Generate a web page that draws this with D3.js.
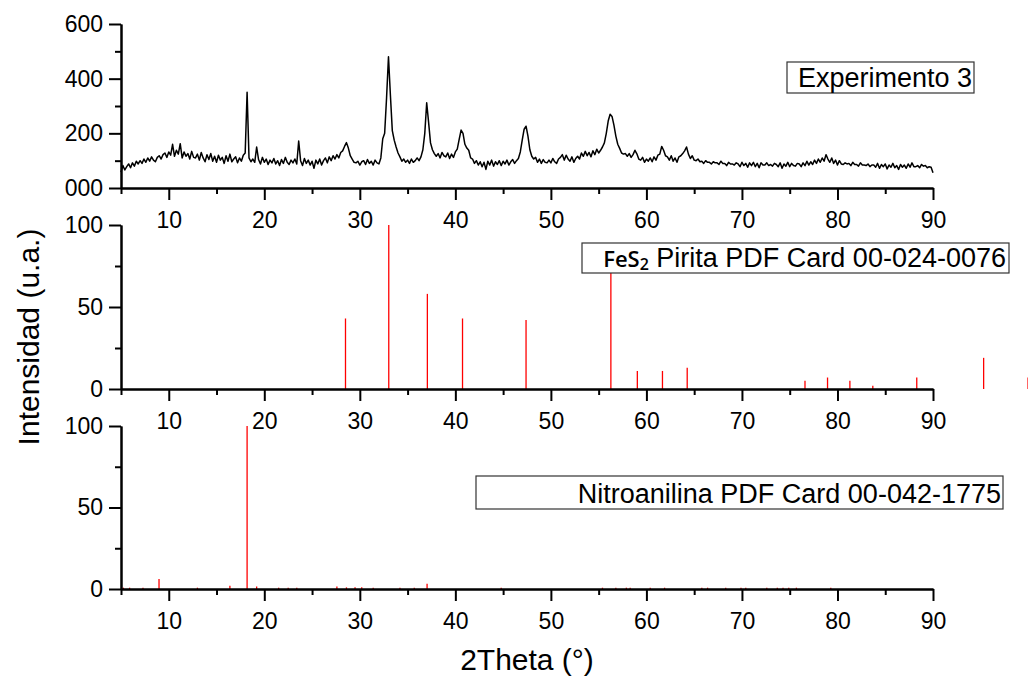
<!DOCTYPE html>
<html>
<head>
<meta charset="utf-8">
<script src="https://cdnjs.cloudflare.com/ajax/libs/d3/7.8.5/d3.min.js"></script>
<style>
  body { margin: 0; background: #fff; }
  text { font-family: "Liberation Sans", Arial, sans-serif; fill: #000; }
</style>
</head>
<body>
<div class="chart"></div>
<script>

// experimento 3: counts read every 0.2 deg from 5.0 to 90.0
var expStart = 5;
var expStep = 0.2;
var expCounts = [
  58, 82, 66, 78, 88, 74, 92, 80, 98, 88,
  100, 90, 106, 94, 110, 98, 114, 102, 96, 112,
  118, 106, 122, 128, 112, 132, 120, 160, 116, 138,
  124, 162, 110, 132, 116, 126, 106, 134, 112, 110,
  124, 102, 130, 110, 96, 122, 104, 126, 98, 116,
  94, 120, 102, 112, 90, 118, 98, 124, 96, 106,
  114, 92, 110, 98, 120, 128, 350, 110, 96, 106,
  94, 150, 104, 88, 112, 94, 106, 86, 102, 92,
  108, 88, 100, 82, 104, 90, 112, 94, 86, 102,
  92, 106, 88, 172, 100, 82, 108, 90, 102, 84,
  98, 72, 102, 88, 106, 84, 100, 110, 92, 114,
  100, 118, 106, 122, 110, 130, 136, 152, 166, 146,
  118, 106, 94, 92, 98, 84, 96, 100, 86, 104,
  90, 98, 84, 102, 92, 88, 110, 180, 200, 330,
  480, 340, 210, 175, 150, 128, 114, 98, 106, 94,
  102, 90, 106, 94, 100, 110, 100, 114, 140, 200,
  312, 240, 165, 140, 126, 116, 126, 110, 130, 118,
  114, 128, 108, 124, 112, 132, 142, 178, 212, 200,
  160, 146, 138, 110, 106, 90, 100, 84, 96, 78,
  94, 68, 98, 84, 102, 80, 96, 86, 100, 82,
  98, 88, 102, 84, 96, 104, 90, 100, 108, 132,
  175, 215, 226, 190, 140, 116, 106, 112, 94, 106,
  90, 104, 94, 92, 102, 92, 108, 96, 90, 106,
  112, 122, 102, 120, 106, 98, 114, 94, 108, 116,
  106, 128, 116, 134, 118, 130, 114, 136, 122, 142,
  128, 138, 150, 165, 200, 245, 270, 262, 230, 190,
  160, 145, 128, 124, 126, 116, 126, 112, 122, 138,
  125, 106, 102, 112, 94, 106, 98, 110, 96, 114,
  102, 120, 124, 152, 138, 118, 114, 102, 118, 98,
  110, 94, 114, 118, 126, 136, 150, 124, 108, 118,
  102, 100, 106, 96, 98, 90, 100, 94, 94, 88,
  96, 92, 92, 86, 98, 90, 90, 82, 94, 88,
  88, 84, 92, 88, 78, 94, 82, 90, 76, 92,
  82, 94, 78, 90, 74, 92, 84, 84, 92, 82,
  86, 80, 90, 86, 78, 92, 72, 88, 80, 94,
  78, 90, 82, 80, 90, 88, 78, 92, 82, 98,
  84, 96, 86, 102, 90, 106, 94, 110, 98, 122,
  106, 94, 110, 90, 102, 84, 100, 88, 86, 92,
  88, 90, 82, 94, 86, 86, 80, 92, 84, 84,
  82, 88, 78, 84, 84, 76, 90, 72, 86, 78,
  88, 70, 84, 76, 90, 74, 82, 68, 86, 76,
  84, 72, 88, 76, 92, 78, 78, 82, 74, 86,
  80, 82, 74, 78, 76, 56
];

// FeS2 pirita PDF card 00-024-0076
var pyriteTheta = [28.5, 33.03, 37.07, 40.75, 47.4, 56.28, 59.05, 61.68, 64.27, 76.6, 78.96, 81.3, 83.7, 88.3, 95.3, 99.95];
var pyriteInt   = [43, 100, 58, 43, 42, 75, 11, 11, 13, 5, 7, 5, 2, 7, 19, 7];

// nitroanilina PDF card 00-042-1775
var nitroTheta = [5.25, 5.9, 7.3, 8.98, 13.0, 16.4, 18.2, 19.2, 21.5, 22.5, 23.4, 27.6, 28.6, 29.5, 30.2, 31.4, 34.2, 35.7, 37.04,
                  44.8, 55.4, 56.8, 57.9, 58.3, 60.4, 61.9, 65.8, 66.4, 68.3, 69.9, 70.4, 72.6, 73.7, 74.3, 74.9, 75.7, 79.3];
var nitroInt   = [0.8, 0.8, 0.8, 6.1, 0.8, 2, 100, 1.5, 0.8, 0.8, 0.8, 1.5, 1, 1, 1, 0.8, 0.8, 0.8, 3.2,
                  0.8, 0.8, 0.8, 0.8, 0.8, 0.8, 0.8, 0.8, 0.8, 0.8, 0.8, 0.8, 0.8, 0.8, 0.8, 0.8, 0.8, 0.8];

var xMajor = [10, 20, 30, 40, 50, 60, 70, 80, 90];
var xMinor = [5, 15, 25, 35, 45, 55, 65, 75, 85];
var expYMajor = [0, 200, 400, 600];
var expYMinor = [100, 300, 500];
var refYMajor = [0, 50, 100];
var refYMinor = [25, 75];

////////////////////////////////////////////////////////////////////////////////////////////////////

var svg = d3.select(".chart").append("svg").attr("width", 1028).attr("height", 677);

var x = d3.scaleLinear().domain([5, 90]).range([121, 933]);

function drawAxes(y, yMajor, yMinor, fmt) {
  var g = svg.append("g");

  g.append("g").attr("transform", "translate(0," + y.range()[0] + ")")
    .call(d3.axisBottom(x).tickValues(xMajor).tickSize(12).tickSizeOuter(0).tickPadding(12));
  g.append("g").attr("transform", "translate(0," + y.range()[0] + ")")
    .call(d3.axisBottom(x).tickValues(xMinor).tickSize(6).tickSizeOuter(0).tickFormat(""));

  g.append("g").attr("transform", "translate(" + x(5) + ",0)")
    .call(d3.axisLeft(y).tickValues(yMajor).tickSize(12).tickSizeOuter(0).tickPadding(6).tickFormat(fmt));
  g.append("g").attr("transform", "translate(" + x(5) + ",0)")
    .call(d3.axisLeft(y).tickValues(yMinor).tickSize(6).tickSizeOuter(0).tickFormat(""));

  g.selectAll(".domain").attr("stroke", "#000").attr("stroke-width", 2);
  g.selectAll(".tick line").attr("stroke", "#000").attr("stroke-width", 2);
  g.selectAll(".tick text").style("font-size", "23px").style("font-family", '"Liberation Sans", Arial, sans-serif');
  return g;
}

function drawSticks(y, theta, inten) {
  svg.append("g").selectAll("line").data(theta).enter().append("line")
    .attr("x1", function(d) { return x(d); })
    .attr("x2", function(d) { return x(d); })
    .attr("y1", y(0))
    .attr("y2", function(d, i) { return y(inten[i]); })
    .attr("stroke", "#ff0000")
    .attr("stroke-width", 1.3);
}

function legendBox(x0, y0, w, h) {
  svg.append("rect").attr("x", x0).attr("y", y0).attr("width", w).attr("height", h)
    .attr("fill", "#fff").attr("stroke", "#333").attr("stroke-width", 1.2);
}

// panel 1 - experimento 3
var y1 = d3.scaleLinear().domain([0, 600]).range([188, 24]);
var expLine = d3.line()
  .x(function(d, i) { return x(expStart + i * expStep); })
  .y(function(d) { return y1(d); });
svg.append("path").datum(expCounts).attr("d", expLine)
  .attr("fill", "none").attr("stroke", "#000").attr("stroke-width", 1.5).attr("stroke-linejoin", "round");
drawAxes(y1, expYMajor, expYMinor, d3.format("03d"));

legendBox(787, 62, 187, 31);
svg.append("text").attr("x", 972).attr("y", 87).attr("text-anchor", "end")
  .style("font-size", "27px").text("Experimento 3");

// panel 2 - pirita
var y2 = d3.scaleLinear().domain([0, 100]).range([389, 225]);
drawSticks(y2, pyriteTheta, pyriteInt);
drawAxes(y2, refYMajor, refYMinor, d3.format("d"));

legendBox(582, 243, 427, 30);
var t2 = svg.append("text").attr("x", 1006).attr("y", 267).attr("text-anchor", "end");
t2.append("tspan").style("font-family", '"Open Sans", "Noto Sans", sans-serif').style("font-weight", 600)
  .style("font-size", "22px").text("FeS");
t2.append("tspan").style("font-family", '"Open Sans", "Noto Sans", sans-serif').style("font-weight", 600)
  .style("font-size", "16px").attr("dy", 3).text("2");
t2.append("tspan").style("font-size", "27px").attr("dy", -3).text(" Pirita PDF Card 00-024-0076");

// panel 3 - nitroanilina
var y3 = d3.scaleLinear().domain([0, 100]).range([589, 426]);
drawSticks(y3, nitroTheta, nitroInt);
drawAxes(y3, refYMajor, refYMinor, d3.format("d"));

legendBox(476, 476, 527, 33);
svg.append("text").attr("x", 1001).attr("y", 503).attr("text-anchor", "end")
  .style("font-size", "27px").text("Nitroanilina PDF Card 00-042-1775");

// axis titles
svg.append("text").attr("x", 527).attr("y", 670).attr("text-anchor", "middle")
  .style("font-size", "30px").text("2Theta (°)");
svg.append("text").attr("transform", "translate(39,337) rotate(-90)").attr("text-anchor", "middle")
  .style("font-size", "30px").text("Intensidad (u.a.)");

</script>
</body>
</html>
